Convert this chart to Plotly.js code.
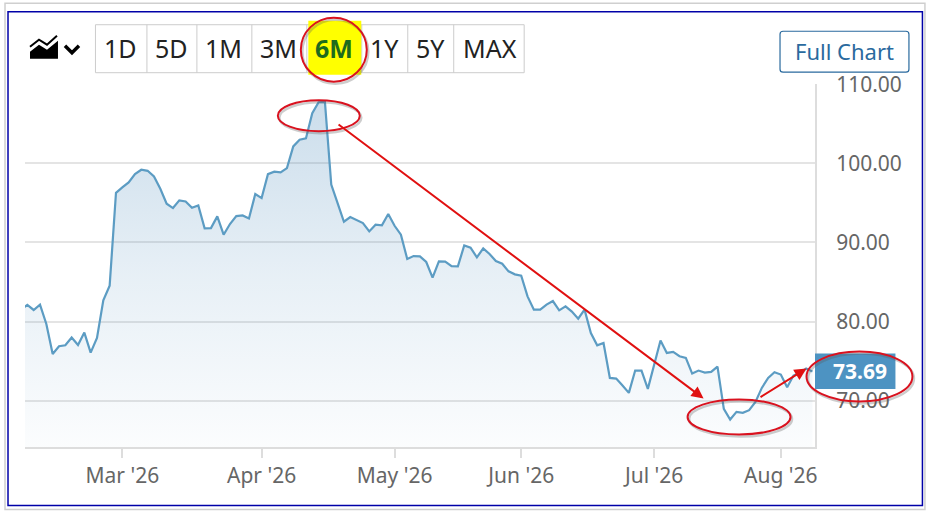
<!DOCTYPE html>
<html><head><meta charset="utf-8">
<script src="https://cdn.plot.ly/plotly-3.0.1.min.js"></script>
<style>html,body{margin:0;padding:0;background:#fff}#c{width:935px;height:513px}</style>
</head><body><div id="c"></div>
<script>
const prices = [81.5,82.1,81.46,82.13,79.69,75.9,76.87,77.0,77.97,77.04,78.6,76.07,77.92,82.68,84.53,96.27,96.95,97.58,98.63,99.18,
99.05,98.34,96.78,94.89,94.34,95.31,95.18,94.38,94.68,91.77,91.81,93.29,90.97,92.32,93.33,93.41,93.03,96.11,95.6,98.63,
98.93,98.84,99.39,102.13,102.97,103.14,106.33,107.72,107.77,97.3,94.97,92.61,93.2,92.78,92.44,91.39,92.23,92.15,93.58,92.1,
90.97,87.9,88.27,88.23,87.52,85.54,87.6,87.56,87.01,86.97,89.62,89.33,88.11,89.24,88.53,87.64,87.31,86.34,85.96,85.79,
83.18,81.5,81.5,82.13,82.59,81.41,81.92,81.25,80.36,81.5,78.55,76.99,77.29,72.87,72.79,71.91,70.98,73.8,73.8,71.49,
74.6,77.59,76.03,76.16,75.61,75.4,73.42,73.8,73.55,73.63,74.31,68.96,67.61,68.58,68.46,68.79,69.84,71.61,72.87,73.59,
73.3,71.7,73.17,73.51,74.05,73.69];
const sessions = prices.map((_, i) => i);
const monthTicks = [16, 38, 59, 79, 100, 120];
const monthLabels = ["Mar '26", "Apr '26", "May '26", "Jun '26", "Jul '26", "Aug '26"];
const priceTicks = [70, 80, 90, 100, 110];
const rangeButtons = ["1D", "5D", "1M", "3M", "6M", "1Y", "5Y", "MAX"];
const buttonCentres = [121, 171.5, 224, 279, 334, 385, 431, 490];
const buttonDividers = [147, 197, 252, 307, 362, 408, 454];
const lastPrice = "73.69";

const L = 25, R = 815.5, T = 84.3, B = 447.5;
const X = p => (p - L) / (R - L);
const Y = p => 1 - (p - T) / (B - T);
const FONT = '"Noto Sans", sans-serif';

const rect = (x0, y0, x1, y1, o) => Object.assign({type:'rect', xref:'paper', yref:'paper', x0:X(x0), x1:X(x1), y0:Y(y0), y1:Y(y1), line:{width:0}}, o);
const ell = (cx, cy, rx, ry, o) => Object.assign({type:'circle', xref:'paper', yref:'paper', x0:X(cx-rx), x1:X(cx+rx), y0:Y(cy-ry), y1:Y(cy+ry)}, o);
const path = (pts, o, close) => Object.assign({type:'path', xref:'paper', yref:'paper',
  path:'M' + pts.map(p => X(p[0]) + ',' + Y(p[1])).join(' L') + (close ? ' Z' : '')}, o);
const vline = (x, y0, y1, o) => ({type:'line', xref:'paper', yref:'paper', x0:X(x), x1:X(x), y0:Y(y0), y1:Y(y1), line:o});
const P = (x, y) => X(x) + ',' + Y(y);
const rounded = (x0, y0, x1, y1, r, o) => Object.assign({type:'path', xref:'paper', yref:'paper',
  path:`M${P(x0+r,y0)} L${P(x1-r,y0)} Q${P(x1,y0)} ${P(x1,y0+r)} L${P(x1,y1-r)} Q${P(x1,y1)} ${P(x1-r,y1)} L${P(x0+r,y1)} Q${P(x0,y1)} ${P(x0,y1-r)} L${P(x0,y0+r)} Q${P(x0,y0)} ${P(x0+r,y0)} Z`}, o);

const ringLine = {color:'#d9121f', width:2};
const shadow = {color:'rgba(90,90,90,0.3)', width:2.5};
const rings = [[334,50,33,32],[319,116,41,15.5],[739.5,417.5,51.5,17.5],[860,377,53,25]];

const shapes = [
  rect(5,3.5,925.5,510,{line:{color:'#cfcfcf',width:1.5}}),
  rect(8,12,923,506,{line:{color:'#0000a8',width:1.5}}),
  rect(95.5,25,524.5,73,{line:{color:'#cccccc',width:1}}),
  ...buttonDividers.map(x => vline(x,25,73,{color:'#cccccc',width:1})),
  rect(308.5,21,361.5,75,{fillcolor:'#ffff00'}),
  rounded(780.5,31.5,909.5,72.5,3,{line:{color:'#2a6a9e',width:1.2},fillcolor:'#ffffff'}),
  rect(815.5,354,896,389.5,{fillcolor:'#4d93c2'}),
  path([[30,59],[30,52],[39,45],[47,50],[58,41],[58,59]],{fillcolor:'#000',line:{width:0}},true),
  path([[30,47],[39,40],[47,45],[57,36]],{line:{color:'#000',width:2}}),
  path([[65,46],[72,53],[79,46]],{line:{color:'#000',width:3.5}}),
  ...rings.map(r => ell(r[0]+1.5,r[1]+2,r[2],r[3],{line:shadow})),
  ...rings.map(r => ell(r[0],r[1],r[2],r[3],{line:ringLine}))
];

const note = (cx, cy, text, font) => ({xref:'paper', yref:'paper', x:X(cx), y:Y(cy), text, showarrow:false,
  xanchor:'center', yanchor:'middle', font:Object.assign({family:FONT}, font)});
const arrow = (x0, y0, x1, y1) => ({xref:'paper', yref:'paper', x:X(x1), y:Y(y1), ax:x0-x1, ay:y0-y1, axref:'pixel', ayref:'pixel',
  text:' ', showarrow:true, arrowhead:2, arrowsize:1.2, arrowwidth:2, arrowcolor:'#e01010'});

const annotations = [
  ...rangeButtons.map((b, i) => note(buttonCentres[i], 48.5, b === '6M' ? '<b>6M</b>' : b,
    {size:25, color: b === '6M' ? '#1d6b1d' : '#222222'})),
  note(845, 51.5, 'Full Chart', {size:22, color:'#2a6a9e'}),
  note(861, 371, '<b>' + lastPrice + '</b>', {size:21, color:'#ffffff'}),
  arrow(335,122,704,399),
  arrow(757,400,807,369)
];

const trace = {
  x: sessions, y: prices, type:'scatter', mode:'lines',
  line:{color:'#5c9cc3', width:2.2},
  fill:'tozeroy',
  fillgradient:{type:'vertical', start:108, stop:64.14,
    colorscale:[[0,'rgba(70,135,185,0.28)'],[0.5,'rgba(70,135,185,0.13)'],[1,'rgba(70,135,185,0.02)']]},
  hoverinfo:'skip'
};

const layout = {
  width:935, height:513, paper_bgcolor:'#ffffff', plot_bgcolor:'#ffffff',
  margin:{l:L, r:935-R, t:T, b:513-B, pad:0}, showlegend:false,
  font:{family:FONT, color:'#666666', size:20},
  xaxis:{type:'linear', range:[0.63,125.4], tickmode:'array', tickvals:monthTicks, ticktext:monthLabels,
    showgrid:false, zeroline:false, showline:true, linecolor:'#dddddd', linewidth:2,
    ticks:'outside', ticklen:9, tickwidth:2, tickcolor:'#dddddd', ticklabelstandoff:0,
    tickfont:{family:FONT, size:21, color:'#666666'}, fixedrange:true},
  yaxis:{side:'right', range:[64.14,110.02], tickmode:'array', tickvals:priceTicks, tickformat:'.2f',
    gridcolor:'#e4e4e4', gridwidth:2, zeroline:false, showline:true, linecolor:'#dddddd', linewidth:2,
    ticks:'outside', ticklen:15, tickcolor:'rgba(0,0,0,0)',
    tickfont:{family:FONT, size:21, color:'#666666'}, fixedrange:true},
  shapes, annotations
};
Plotly.newPlot('c', [trace], layout, {displayModeBar:false, staticPlot:true});
</script></body></html>
